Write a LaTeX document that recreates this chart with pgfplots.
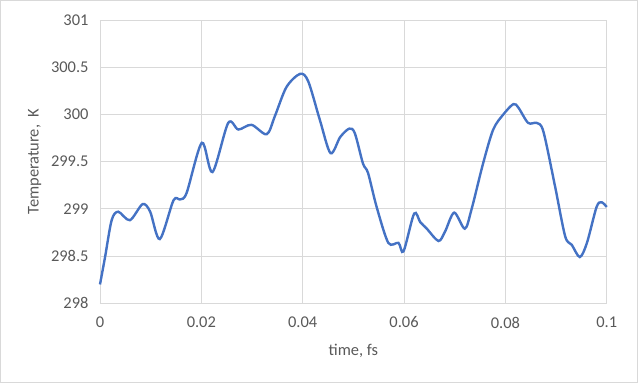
\documentclass[border=0pt]{standalone}
\usepackage{pgfplots}
\pgfplotsset{compat=1.18}
\usepackage{fontspec}
\setmainfont{Carlito}
\definecolor{txt}{HTML}{595959}
\definecolor{grd}{HTML}{D9D9D9}
\definecolor{ln}{HTML}{4472C4}
\begin{document}
\begin{tikzpicture}
\useasboundingbox (-100bp,-79.7bp) rectangle (538bp,303.3bp);
\draw[grd, line width=0.8bp] (-99.5bp,-79.2bp) rectangle (537.5bp,302.8bp);
\begin{axis}[
  scale only axis,
  width=506.7bp, height=283.3bp,
  xmin=0, xmax=0.1, ymin=298, ymax=301,
  xtick={0,0.02,...,0.1},
  ytick={298,298.5,...,301},
  scaled x ticks=false,
  xticklabel style={/pgf/number format/fixed, /pgf/number format/precision=2},
  yticklabel style={/pgf/number format/fixed, /pgf/number format/precision=1},
  /pgf/number format/assume math mode=true,
  grid=major,
  grid style={grd, line width=0.8bp},
  axis line style={grd, line width=0.8bp},
  major tick length=0pt,
  tick label style={font=\fontsize{16.5}{19}\selectfont, text=txt},
  label style={font=\fontsize{16.5}{19}\selectfont, text=txt},
  xticklabel style={yshift=-10bp},
  yticklabel style={xshift=-8bp},
  xlabel={time, fs},
  ylabel={Temperature,\ \ K},
  xlabel style={yshift=-9bp},
  ylabel style={yshift=3bp},
  clip=false,
]
\addplot[ln, line width=2.4bp, smooth, tension=0.5] coordinates {
(0.0000,298.20) (0.0010,298.49) (0.0023,298.88) (0.0036,298.97) (0.0059,298.88)
(0.0084,299.05) (0.0099,298.97) (0.0118,298.68) (0.0145,299.09) (0.0158,299.10)
(0.0171,299.17) (0.0201,299.70) (0.0222,299.39) (0.0253,299.91) (0.0273,299.84)
(0.0299,299.89) (0.0329,299.79) (0.0345,299.98) (0.0368,300.29) (0.0395,300.43)
(0.0411,300.35) (0.0434,299.94) (0.0455,299.59) (0.0474,299.76) (0.0492,299.85)
(0.0503,299.80) (0.0519,299.48) (0.0529,299.38) (0.0546,299.02) (0.0569,298.64)
(0.0589,298.64) (0.0599,298.55) (0.0620,298.95) (0.0632,298.86) (0.0645,298.79)
(0.0668,298.66) (0.0681,298.76) (0.0699,298.96) (0.0720,298.79) (0.0733,298.99)
(0.0756,299.48) (0.0776,299.84) (0.0796,300.00) (0.0816,300.11) (0.0826,300.07)
(0.0845,299.91) (0.0862,299.91) (0.0875,299.82) (0.0898,299.24) (0.0918,298.71)
(0.0931,298.62) (0.0947,298.49) (0.0961,298.64) (0.0980,299.02) (0.0990,299.07)
(0.1000,299.02)
};
\end{axis}
\end{tikzpicture}
\end{document}
